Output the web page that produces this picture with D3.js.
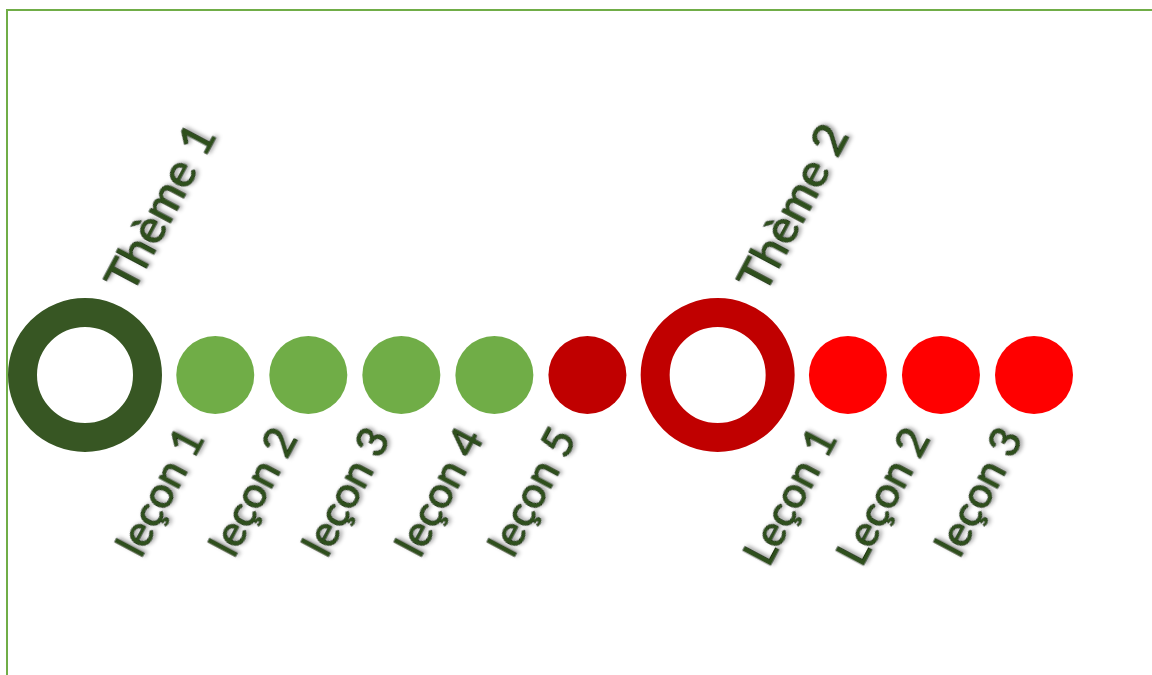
<!DOCTYPE html>
<html>
<head>
<meta charset="utf-8">
<script src="https://cdn.jsdelivr.net/npm/d3@7"></script>
<style>
  html, body { margin: 0; padding: 0; background: #fff; }
  svg { display: block; }
</style>
</head>
<body>
<div id="chart"></div>
<script>
// points along the timeline
var labels = ["Thème 1", "leçon 1", "leçon 2", "leçon 3", "leçon 4", "leçon 5",
              "Thème 2", "Leçon 1", "Leçon 2", "leçon 3"];
var xValues = [0, 1.4, 2.4, 3.4, 4.4, 5.4, 6.8, 8.2, 9.2, 10.2];
var yValues = [0, 0, 0, 0, 0, 0, 0, 0, 0, 0];
var kinds = ["theme", "lesson", "lesson", "lesson", "lesson", "lesson",
             "theme", "lesson", "lesson", "lesson"];
var pointColors = ["#375623", "#70AD47", "#70AD47", "#70AD47", "#70AD47", "#C00000",
                   "#C00000", "#FF0000", "#FF0000", "#FF0000"];

var width = 1152, height = 675;

var svg = d3.select("#chart")
  .append("svg")
    .attr("width", width)
    .attr("height", height);

var defs = svg.append("defs");
var shadow = defs.append("filter")
    .attr("id", "shadow")
    .attr("x", "-20%").attr("y", "-20%")
    .attr("width", "140%").attr("height", "140%");
shadow.append("feDropShadow")
    .attr("dx", 2).attr("dy", 2)
    .attr("stdDeviation", 2)
    .attr("flood-color", "#000")
    .attr("flood-opacity", 0.4);

// plot frame (runs off the right and bottom edges)
svg.append("rect")
    .attr("x", 7)
    .attr("y", 10)
    .attr("width", width)
    .attr("height", height)
    .attr("fill", "none")
    .attr("stroke", "#70AD47")
    .attr("stroke-width", 2);

var x = d3.scaleLinear()
    .domain([0, 10.2])
    .range([85, 1034]);

var y = d3.scaleLinear()
    .domain([-1, 1])
    .range([475, 275]);

var data = labels.map(function(d, i) {
  return {label: d, x: xValues[i], y: yValues[i], kind: kinds[i], color: pointColors[i]};
});

// theme rings
svg.selectAll("ring")
  .data(data.filter(function(d) { return d.kind == "theme"; }))
  .enter()
  .append("circle")
    .attr("cx", function(d) { return x(d.x); })
    .attr("cy", function(d) { return y(d.y); })
    .attr("r", 62.5)
    .attr("fill", "none")
    .attr("stroke", function(d) { return d.color; })
    .attr("stroke-width", 29);

// lesson dots
svg.selectAll("dot")
  .data(data.filter(function(d) { return d.kind == "lesson"; }))
  .enter()
  .append("circle")
    .attr("cx", function(d) { return x(d.x); })
    .attr("cy", function(d) { return y(d.y); })
    .attr("r", 39)
    .attr("fill", function(d) { return d.color; });

// labels: themes above, lessons below, all slanted
svg.selectAll("lbl")
  .data(data)
  .enter()
  .append("text")
    .attr("transform", function(d) {
      var px, py;
      if (d.kind == "theme") { px = x(d.x) + 47; py = y(d.y) - 80; }
      else { px = x(d.x) - 10; py = y(d.y) + 63; }
      return "translate(" + px + "," + py + ") rotate(-62)";
    })
    .attr("text-anchor", function(d) { return d.kind == "theme" ? "start" : "end"; })
    .style("font-family", "Lato, 'Open Sans', sans-serif")
    .style("font-size", function(d) { return d.kind == "theme" ? "47px" : "43px"; })
    .attr("fill", "#2F4F1C")
    .attr("stroke", "#081404")
    .attr("stroke-width", 0.9)
    .attr("paint-order", "stroke")
    .attr("filter", "url(#shadow)")
    .text(function(d) { return d.label; });
</script>
</body>
</html>
